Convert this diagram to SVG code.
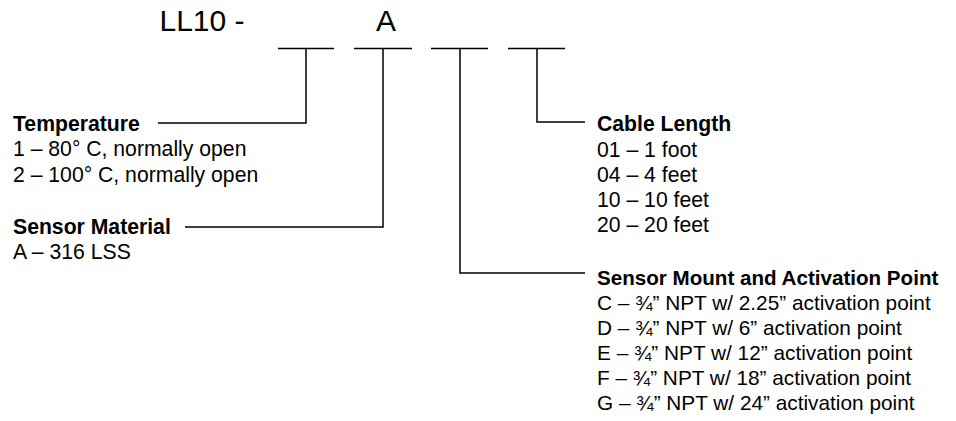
<svg xmlns="http://www.w3.org/2000/svg" width="956" height="421" viewBox="0 0 956 421">
<style>
text{font-family:"Liberation Sans",Arial,sans-serif;fill:#000}
.t{font-size:21.2px}
.b{font-size:21.2px;font-weight:bold}
.r{font-size:20.8px}
.rb{font-size:20.6px;font-weight:bold}
.big{font-size:30px}
.ln{stroke:#000;stroke-width:1.5;fill:none}
</style>
<rect width="956" height="421" fill="#fff"/>
<g id="code">
<text class="big" x="159.5" y="31">LL10 -</text>
<text class="big" x="376" y="31">A</text>
</g>
<g id="connectors">
<line class="ln" x1="278" y1="48.5" x2="334" y2="48.5"/>
<line class="ln" x1="354" y1="48.5" x2="412" y2="48.5"/>
<line class="ln" x1="431" y1="48.5" x2="488" y2="48.5"/>
<line class="ln" x1="508" y1="48.5" x2="565" y2="48.5"/>
<polyline class="ln" points="306,48.5 306,123 158,123"/>
<polyline class="ln" points="383,48.5 383,227 185,227"/>
<polyline class="ln" points="460,48.5 460,273 585,273"/>
<polyline class="ln" points="537,48.5 537,122 585,122"/>
</g>
<g id="temperature">
<text class="b" x="13" y="131">Temperature</text>
<text class="t" x="13" y="156">1 – 80° C, normally open</text>
<text class="t" x="13" y="182">2 – 100° C, normally open</text>
</g>
<g id="sensor-material">
<text class="b" x="13" y="234">Sensor Material</text>
<text class="t" x="13" y="259">A – 316 LSS</text>
</g>
<g id="cable-length">
<text class="b" x="597" y="131">Cable Length</text>
<text class="t" x="597" y="157">01 – 1 foot</text>
<text class="t" x="597" y="182">04 – 4 feet</text>
<text class="t" x="597" y="207">10 – 10 feet</text>
<text class="t" x="597" y="232">20 – 20 feet</text>
</g>
<g id="sensor-mount">
<text class="rb" x="597" y="285">Sensor Mount and Activation Point</text>
<text class="r" x="597" y="310">C – ¾” NPT w/ 2.25” activation point</text>
<text class="r" x="597" y="335">D – ¾” NPT w/ 6” activation point</text>
<text class="r" x="597" y="360">E – ¾” NPT w/ 12” activation point</text>
<text class="r" x="597" y="385">F – ¾” NPT w/ 18” activation point</text>
<text class="r" x="597" y="410">G – ¾” NPT w/ 24” activation point</text>
</g>
</svg>
